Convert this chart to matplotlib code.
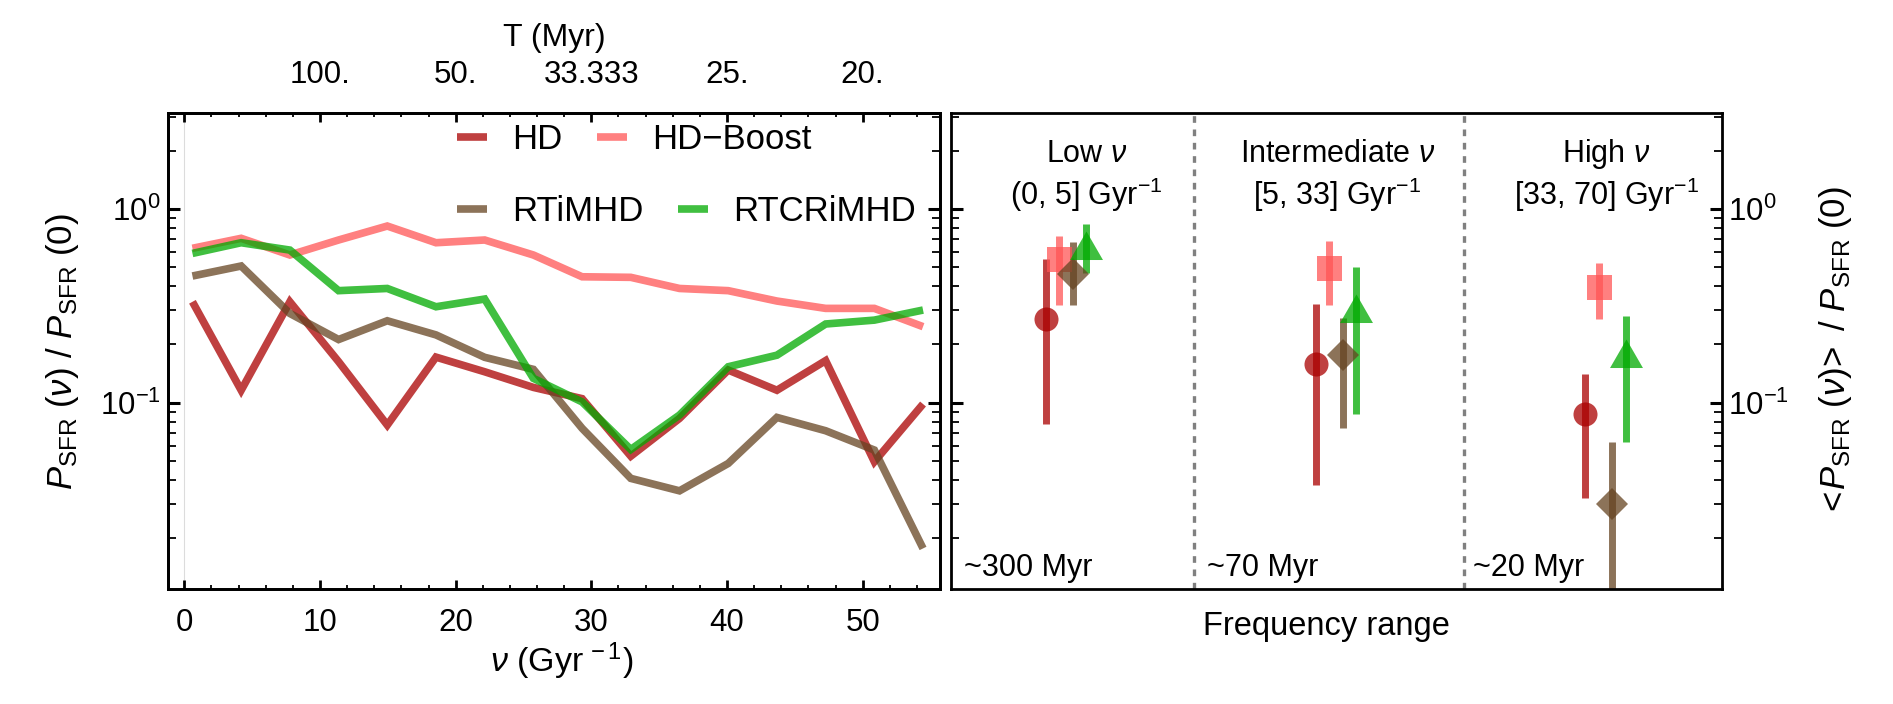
import numpy as np
import matplotlib
matplotlib.use("Agg")
import matplotlib.pyplot as plt
from matplotlib.path import Path
from matplotlib.ticker import LogLocator, NullFormatter, MultipleLocator, FixedLocator

plt.rcParams['font.family'] = ['Liberation Sans', 'DejaVu Sans']
plt.rcParams['mathtext.fontset'] = 'custom'
plt.rcParams['mathtext.rm'] = 'Liberation Sans'
plt.rcParams['mathtext.it'] = 'Liberation Sans:italic'
plt.rcParams['mathtext.bf'] = 'Liberation Sans:bold'

# ---------------- data: left panel (power spectra) ----------------
nu = [0.6, 4.19, 7.78, 11.37, 14.96, 18.55, 22.14, 25.73,
      29.32, 32.91, 36.5, 40.09, 43.68, 47.27, 50.86, 54.45]
p_hd = [0.332, 0.116, 0.332, 0.163, 0.0767, 0.172, 0.1445, 0.120,
        0.105, 0.053, 0.083, 0.1475, 0.116, 0.165, 0.0496, 0.0985]
p_hdboost = [0.627, 0.706, 0.579, 0.692, 0.817, 0.670, 0.692, 0.579,
             0.447, 0.444, 0.389, 0.379, 0.335, 0.307, 0.307, 0.247]
p_rtimhd = [0.451, 0.508, 0.289, 0.212, 0.265, 0.224, 0.1716, 0.1487,
            0.0738, 0.0407, 0.0351, 0.0486, 0.084, 0.0717, 0.057, 0.0177]
p_rtcrimhd = [0.59, 0.67, 0.614, 0.379, 0.389, 0.313, 0.343, 0.1336,
              0.101, 0.0574, 0.0864, 0.1534, 0.176, 0.255, 0.267, 0.301]

series_names = ['HD', 'HD\u2212Boost', 'RTiMHD', 'RTCRiMHD']

top_tick_nu = [0, 10, 20, 30, 40, 50]
top_tick_labels = ['', '100.', '50.', '33.333', '25.', '20.']

# ---------------- data: right panel (band averages) ----------------
band_pos = [1, 2, 3]
band_titles = ['Low $\\nu$', 'Intermediate $\\nu$', 'High $\\nu$']
band_ranges = ['(0, 5] Gyr$^{-1}$', '[5, 33] Gyr$^{-1}$', '[33, 70] Gyr$^{-1}$']
band_times = ['~300 Myr', '~70 Myr', '~20 Myr']
band_edges = [1.55, 2.55]

avg_hd = [0.271, 0.158, 0.0874]
hi_hd = [0.551, 0.323, 0.1407]
lo_hd = [0.0773, 0.0375, 0.0324]

avg_hdboost = [0.551, 0.499, 0.398]
hi_hdboost = [0.722, 0.686, 0.526]
lo_hdboost = [0.318, 0.318, 0.270]

avg_rtimhd = [0.46, 0.1765, 0.0299]
hi_rtimhd = [0.672, 0.273, 0.0629]
lo_rtimhd = [0.318, 0.0738, 0.005]

avg_rtcrimhd = [0.618, 0.292, 0.170]
hi_rtcrimhd = [0.839, 0.501, 0.282]
lo_rtcrimhd = [0.47, 0.088, 0.0629]

# ---------------- styles ----------------
colors = [(0.667, 0.0, 0.0), (1.0, 0.333, 0.333), (0.4, 0.267, 0.133), (0.0, 0.667, 0.0)]
ALPHA = 0.75
tri = Path([(0, 1), (-0.866, -0.5), (0.866, -0.5), (0, 1)],
           [Path.MOVETO, Path.LINETO, Path.LINETO, Path.CLOSEPOLY])
markers = ['o', 's', 'D', tri]
msizes = [17.3, 18.0, 16.3, 27.4]
offsets = [0.0, 0.05, 0.10, 0.15]

YLIM = (0.01089, 3.12)
TICK_FS = 22.5

W, H = 1893, 704
fig = plt.figure(figsize=(W / 100, H / 100), dpi=100)
ax1 = fig.add_axes([168.3 / W, 1 - 589.3 / H, (940 - 168.3) / W, 476 / H])
ax2 = fig.add_axes([951 / W, 1 - 589.3 / H, 770.7 / W, 476 / H])

# ---------------- left panel ----------------
ax1.axvline(0, color='#dcdcdc', lw=0.8, zorder=0)
handles = []
for name, vals, col in zip(series_names, [p_hd, p_hdboost, p_rtimhd, p_rtcrimhd], colors):
    ln, = ax1.plot(nu, vals, color=col, alpha=ALPHA, lw=5.5,
                   solid_joinstyle='miter', solid_capstyle='butt', label=name)
    handles.append(ln)

ax1.set_yscale('log')
ax1.set_ylim(*YLIM)
ax1.set_xlim(-1.18, 55.7)
ax1.xaxis.set_major_locator(FixedLocator([0, 10, 20, 30, 40, 50]))
ax1.xaxis.set_minor_locator(MultipleLocator(2))
ax1.yaxis.set_major_locator(LogLocator(base=10))
ax1.yaxis.set_minor_locator(LogLocator(base=10, subs=np.arange(2, 10)))
ax1.yaxis.set_minor_formatter(NullFormatter())
ax1.tick_params(axis='x', which='major', direction='in', length=6.5, width=2.0,
                labelsize=TICK_FS, pad=13.5, bottom=True, top=False)
ax1.tick_params(axis='x', which='minor', direction='in', length=3.2, width=1.3,
                bottom=True, top=False)
ax1.tick_params(axis='y', which='major', direction='in', length=8.6, width=2.2,
                labelsize=TICK_FS, pad=5.5, left=True, right=True)
ax1.tick_params(axis='y', which='minor', direction='in', length=5.5, width=1.3,
                left=True, right=True)
for s in ax1.spines.values():
    s.set_linewidth(2.0)

ax1.set_xlabel(r'$\nu\ (\mathrm{Gyr}^{\,-1})$', fontsize=24.5)
ax1.xaxis.set_label_coords(0.51, -0.1506)
ax1.xaxis.label.set_va('center')
ax1.set_ylabel(r'$P_{\mathrm{SFR}}\ (\nu)\ /\ P_{\mathrm{SFR}}\ (0)$', fontsize=25)
ax1.yaxis.set_label_coords(-0.1365, 0.5)
ax1.yaxis.label.set_va('center')

axt = ax1.twiny()
axt.set_xlim(ax1.get_xlim())
axt.set_xticks(top_tick_nu, labels=top_tick_labels)
axt.xaxis.set_minor_locator(MultipleLocator(2))
axt.tick_params(axis='x', which='major', direction='in', length=6.5, width=2.0,
                labelsize=TICK_FS, pad=17)
axt.tick_params(axis='x', which='minor', direction='in', length=3.2, width=1.3)
for s in axt.spines.values():
    s.set_linewidth(2.0)
axt.set_xlabel('T (Myr)', fontsize=23)
axt.xaxis.set_label_coords(0.5, 1.158)
axt.xaxis.label.set_va('center')

leg_kw = dict(ncol=2, loc='center left', frameon=False, borderpad=0, borderaxespad=0,
              handlelength=0.865, handletextpad=0.72, columnspacing=1.0, fontsize=25)
leg1 = ax1.legend(handles=handles[:2], bbox_to_anchor=(0.3741, 0.945), **leg_kw)
ax1.add_artist(leg1)
ax1.legend(handles=handles[2:], bbox_to_anchor=(0.3741, 0.793), **leg_kw)

# ---------------- right panel ----------------
for xe in band_edges:
    ax2.axvline(xe, color='#808080', lw=2.4, ls=(0, (2, 2)), zorder=0)

avgs = [avg_hd, avg_hdboost, avg_rtimhd, avg_rtcrimhd]
his = [hi_hd, hi_hdboost, hi_rtimhd, hi_rtcrimhd]
los = [lo_hd, lo_hdboost, lo_rtimhd, lo_rtcrimhd]
for k in range(4):
    x = np.array(band_pos) + offsets[k]
    y = np.array(avgs[k])
    err = [y - np.array(los[k]), np.array(his[k]) - y]
    ax2.errorbar(x, y, yerr=err, linestyle='none', marker=markers[k], ms=msizes[k],
                 color=colors[k], alpha=ALPHA, markeredgewidth=0,
                 elinewidth=5, capsize=4, capthick=4.3, label=series_names[k])

ax2.set_yscale('log')
ax2.set_ylim(*YLIM)
ax2.set_xlim(0.649, 3.505)
ax2.set_xticks([])
ax2.yaxis.set_major_locator(LogLocator(base=10))
ax2.yaxis.set_minor_locator(LogLocator(base=10, subs=np.arange(2, 10)))
ax2.yaxis.set_minor_formatter(NullFormatter())
ax2.tick_params(axis='y', which='major', direction='in', length=8.6, width=2.2,
                labelsize=TICK_FS, pad=4.7, left=True, right=True,
                labelleft=False, labelright=True)
ax2.tick_params(axis='y', which='minor', direction='in', length=5.5, width=1.3,
                left=True, right=True)
for s in ax2.spines.values():
    s.set_linewidth(2.0)

ax2.yaxis.set_label_position('right')
ax2.set_ylabel(r'$<\!P_{\mathrm{SFR}}\ (\nu)\!>\ /\ P_{\mathrm{SFR}}\ (0)$', fontsize=25)
ax2.yaxis.set_label_coords(1.1483, 0.5)
ax2.yaxis.label.set_va('center')
ax2.yaxis.label.set_rotation(90)
ax2.set_xlabel('Frequency range', fontsize=23.5)
ax2.xaxis.set_label_coords(0.4866, -0.0792)
ax2.xaxis.label.set_va('center')

title_x = [0.176, 0.5015, 0.8505]
time_x = [0.0173, 0.332, 0.677]
for i in range(3):
    ax2.text(title_x[i], 0.898, band_titles[i], transform=ax2.transAxes,
             ha='center', va='baseline', fontsize=22)
    ax2.text(title_x[i], 0.807, band_ranges[i], transform=ax2.transAxes,
             ha='center', va='baseline', fontsize=22)
    ax2.text(time_x[i], 0.028, band_times[i], transform=ax2.transAxes,
             ha='left', va='baseline', fontsize=22)

fig.savefig('out.png', dpi=100)
